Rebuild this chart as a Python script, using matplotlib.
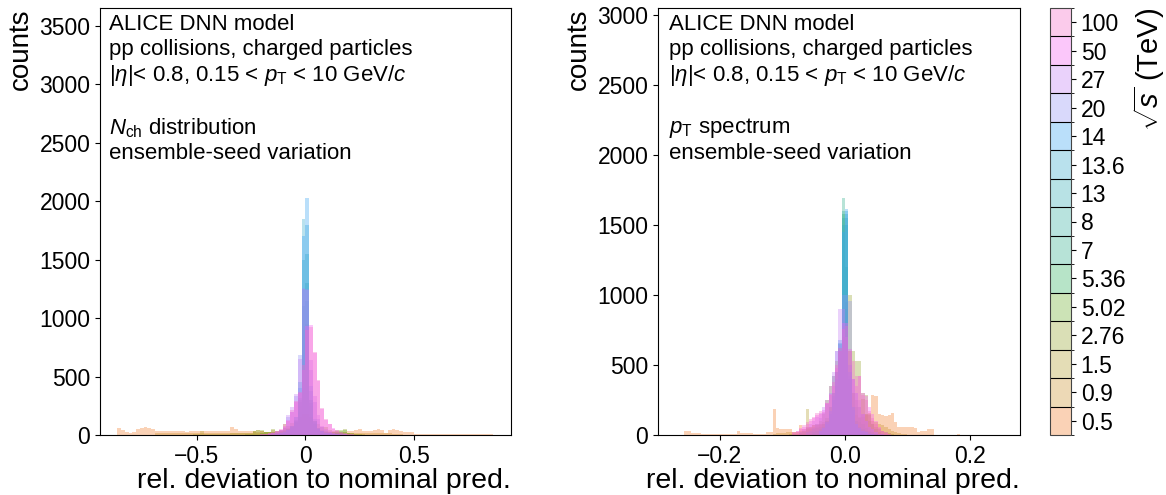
import numpy as np
import matplotlib
matplotlib.use("Agg")
import matplotlib.pyplot as plt
from matplotlib.colors import ListedColormap, BoundaryNorm
from matplotlib.cm import ScalarMappable
from seaborn.external import husl

plt.rcParams['font.family'] = ['Liberation Sans', 'DejaVu Sans']
plt.rcParams['mathtext.fontset'] = 'custom'
plt.rcParams['mathtext.rm'] = 'Liberation Sans'
plt.rcParams['mathtext.it'] = 'Liberation Sans:italic'

energies = ["0.5", "0.9", "1.5", "2.76", "5.02", "5.36", "7", "8", "13", "13.6", "14", "20", "27", "50", "100"]

# N_ch panel: 100 bins, (first bin index, counts)
nch_edges = np.arange(-50, 51) * 0.0173
nch_counts = {
    "0.5": (0, [57, 43, 29, 20, 29, 49, 63, 66, 60, 54,
                30, 32, 30, 34, 33, 30, 31, 30, 28, 32, 30, 34,
                36, 34, 32, 30, 30, 30, 32, 30,
                66, 50, 36, 34, 32, 30, 30, 28, 30, 28,
                26, 28, 24, 24, 26, 28, 30, 34, 40, 44,
                42, 36, 30, 28, 26, 24, 26, 24, 26, 28,
                26, 30, 36, 40, 50, 30, 30, 32, 44, 55,
                40, 20, 45, 55, 40, 35, 26, 24, 22,
                8, 9, 8, 9, 8, 8, 9, 8, 8, 9, 8, 8, 9, 8, 8, 9, 8, 8, 9, 8, 7]),
    "0.9": (10, [18, 20, 18, 18, 19, 18, 19, 18, 18, 18, 18, 18, 20, 20, 18, 18, 18, 18, 20, 18,
                 20, 18, 18, 18, 18, 20, 22, 20, 20, 22, 24, 26, 28, 30, 32, 30, 28, 24, 22, 20,
                 18, 18, 18, 20, 20, 18, 18, 16, 16, 18, 18, 20, 20, 18, 18, 16, 16, 18, 18, 20,
                 18, 16, 14, 12, 10, 8]),
    "1.5": (20, [8, 10, 30, 12, 10, 10, 10, 12, 12, 12, 14, 14, 16, 16, 18, 20, 30, 40, 34, 28,
                 26, 40, 30, 40, 60, 60, 80, 100, 110, 110, 80, 60, 50, 40, 30, 26, 24, 30, 30, 26,
                 24, 20, 16, 12, 10, 8]),
    "2.76": (34, [10, 12, 30, 45, 40, 25, 22, 55, 20, 30, 90, 80, 100, 120, 150, 180, 180, 150, 120, 90,
                  70, 65, 40, 25, 40, 40, 55, 20, 14, 10, 8]),
    "5.02": (38, [20, 22, 25, 25, 30, 35, 40, 50, 70, 110, 200, 400, 420, 180, 90, 60, 40, 30, 25, 25,
                  22, 30, 40, 20, 10]),
    "5.36": (40, [10, 15, 20, 25, 35, 50, 80, 130, 300, 900, 950, 300, 120, 60, 35, 25, 20, 15, 15, 20, 10]),
    "7": (42, [10, 15, 25, 40, 60, 100, 250, 1100, 1150, 250, 90, 50, 30, 20, 15, 10, 8]),
    "8": (42, [10, 15, 25, 40, 60, 110, 280, 1250, 1300, 270, 100, 50, 30, 20, 15, 10, 8]),
    "13": (42, [10, 15, 25, 40, 70, 120, 320, 1500, 1550, 300, 110, 55, 30, 20, 15, 10, 8]),
    "13.6": (42, [10, 15, 25, 45, 80, 150, 450, 1850, 1800, 380, 120, 55, 30, 20, 15, 10, 8]),
    "14": (42, [10, 15, 25, 45, 80, 150, 400, 1700, 2030, 420, 140, 60, 30, 20, 15, 10, 8]),
    "20": (40, [10, 15, 25, 40, 60, 150, 200, 330, 687, 1260, 1250, 560, 280, 140, 70, 40, 25, 15, 10, 8, 5]),
    "27": (40, [10, 15, 25, 45, 70, 170, 240, 350, 650, 1250, 1240, 640, 330, 170, 80, 50, 30, 20, 12, 8, 5]),
    "50": (38, [8, 10, 15, 20, 30, 45, 80, 130, 200, 280, 360, 560, 930, 940, 700, 460, 220, 130, 95, 60,
                40, 25, 15, 10, 5]),
    "100": (38, [8, 10, 15, 22, 35, 50, 90, 120, 210, 292, 372, 600, 900, 920, 713, 472, 232, 138, 90, 50,
                 30, 20, 12, 8, 5]),
}

# pT panel
pt_edges = np.arange(-52, 49) * 0.00525
pt_counts = {
    "0.5": (3, [26, 26, 17, 17, 17,
                7, 7, 7, 7, 7, 7, 7, 7, 7, 7, 7,
                26, 17, 17, 17, 17, 7, 7, 7, 7, 22, 22,
                185, 48, 41, 41, 41, 41, 24, 24, 72, 40,
                60, 60, 70, 70, 80, 80, 90, 100, 110, 120,
                130, 140, 150, 150, 150, 140, 130, 150, 140, 160,
                288, 280, 150, 144, 137, 140, 156, 96, 60, 55,
                55, 55, 55, 48, 24, 31, 31, 41, 41, 0,
                0, 0, 0, 0, 0, 0, 7]),
    "0.9": (30, [10, 12, 14, 16, 18, 20, 22, 24, 26, 30, 40, 50, 60, 70, 80, 90, 100, 110, 120, 130,
                 140, 140, 130, 120, 110, 100, 90, 130, 150, 140, 100, 90, 80, 70, 60, 40, 30, 20, 15, 10, 5]),
    "1.5": (35, [5, 8, 10, 12, 20, 185, 40, 50, 60, 70, 80, 90, 140, 100, 150, 250, 200, 350, 350, 300,
                 250, 200, 260, 150, 100, 80, 60, 40, 30, 20, 15, 10]),
    "2.76": (38, [20, 30, 50, 60, 70, 80, 100, 150, 250, 350, 420, 530, 620, 700, 900, 1000, 600, 528, 528, 300,
                  288, 150, 80, 40, 20, 10]),
    "5.02": (40, [20, 30, 40, 50, 60, 80, 120, 200, 300, 450, 600, 900, 950, 600, 300, 200, 120, 80, 50, 30, 20, 10]),
    "5.36": (42, [20, 30, 40, 60, 100, 200, 300, 450, 600, 1580, 1200, 400, 200, 100, 60, 40, 30, 20, 10, 5]),
    "7": (44, [30, 50, 80, 150, 250, 350, 550, 1696, 1500, 500, 200, 80, 50, 30, 20, 10, 5, 3]),
    "8": (44, [30, 50, 80, 150, 250, 350, 600, 1600, 1550, 450, 180, 80, 50, 30, 20, 10, 5, 3]),
    "13": (44, [30, 50, 80, 150, 250, 380, 650, 1550, 1580, 400, 170, 80, 50, 30, 20, 10, 5, 3]),
    "13.6": (44, [30, 50, 90, 170, 280, 400, 660, 1500, 1600, 420, 180, 80, 50, 30, 20, 10, 5, 3]),
    "14": (44, [30, 50, 90, 170, 300, 450, 678, 1450, 1619, 450, 200, 80, 50, 30, 20, 10, 5, 3]),
    "20": (40, [20, 30, 50, 80, 120, 160, 220, 300, 420, 600, 640, 1000, 1000, 960, 400, 300, 200, 150, 100, 60,
                40, 20, 10, 5]),
    "27": (38, [20, 40, 60, 80, 100, 130, 160, 200, 250, 350, 450, 600, 900, 900, 700, 500, 400, 300, 250, 150,
                100, 60, 40, 20, 10, 5]),
    "50": (36, [20, 30, 50, 60, 80, 100, 120, 140, 150, 180, 230, 290, 350, 480, 600, 800, 800, 612, 400, 350,
                420, 300, 280, 200, 150, 100, 60, 30, 20, 10]),
    "100": (36, [15, 30, 45, 70, 90, 113, 130, 160, 170, 168, 230, 288, 380, 500, 620, 760, 780, 600, 528, 420,
                 425, 288, 250, 170, 120, 80, 50, 30, 15, 8]),
}

header = "ALICE DNN model\npp collisions, charged particles\n$|\\eta|$< 0.8, 0.15 < $p_{\\rm T}$ < 10 GeV/$c$\n\n"
texts = ["$N_{\\rm ch}$ distribution\nensemble-seed variation", "$p_{\\rm T}$ spectrum\nensemble-seed variation"]

alpha = 0.35
hues = np.linspace(30, 330, len(energies))
colors = [tuple(np.clip(husl.husl_to_rgb(h, 90, 65), 0, 1)) for h in hues]


def full_counts(entry, nbins):
    start, vals = entry
    out = np.zeros(nbins)
    out[start:start + len(vals)] = vals
    return out


fig = plt.figure(figsize=(11.66, 4.95), dpi=100)
ax1 = fig.add_axes([100 / 1166, 60 / 495, 411 / 1166, 427 / 495])
ax2 = fig.add_axes([658 / 1166, 60 / 495, 362 / 1166, 427 / 495])
cax = fig.add_axes([1050 / 1166, 60 / 495, 21 / 1166, 427 / 495])

for ax, edges, data, txt, tx in [(ax1, nch_edges, nch_counts, texts[0], 0.022),
                                 (ax2, pt_edges, pt_counts, texts[1], 0.03)]:
    centers = 0.5 * (edges[1:] + edges[:-1])
    ymax = 0
    for e, c in zip(energies, colors):
        w = full_counts(data[e], len(centers))
        ymax = max(ymax, w.max())
        ax.hist(centers, bins=edges, weights=w, color=c, alpha=alpha)
    ax.set_ylim(0, 1.8 * ymax)
    ax.set_xlabel("rel. deviation to nominal pred.", fontsize=20.5, loc='right', labelpad=0)
    ax.set_ylabel("counts", fontsize=20, loc='top')
    ax.tick_params(labelsize=16.5)
    ax.text(tx, 0.985, header + txt, transform=ax.transAxes, va='top', ha='left', fontsize=16)

ax1.set_xlim(-0.945, 0.947)
ax2.set_xlim(-0.299, 0.28)
ax1.set_xticks([-0.5, 0, 0.5])
ax1.set_xticklabels(["\u22120.5", "0", "0.5"])

cmap = ListedColormap([(r, g, b, alpha) for r, g, b in colors])
norm = BoundaryNorm(np.arange(len(energies) + 1) - 0.5, len(energies))
cb = fig.colorbar(ScalarMappable(norm=norm, cmap=cmap), cax=cax, ticks=np.arange(len(energies)), drawedges=True)
cb.ax.set_yticklabels(energies)
cb.ax.tick_params(labelsize=16.5)
cb.dividers.set_color('black')
cb.dividers.set_linewidth(0.8)
cb.outline.set_edgecolor('#444444')
cb.set_label("$\\sqrt{s}$ (TeV)", fontsize=21, loc='top')

fig.savefig("out.png", dpi=100)
